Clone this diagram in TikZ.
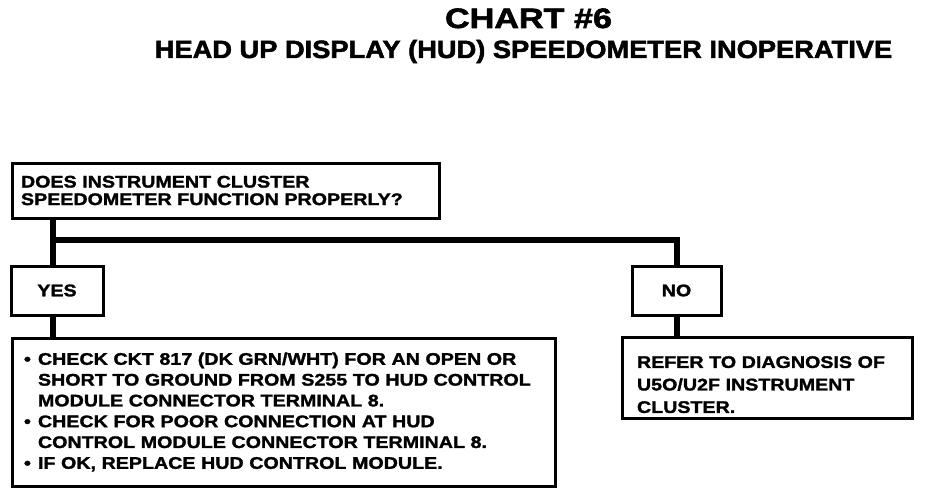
\documentclass[tikz,border=0pt]{standalone}
\usepackage{fontspec}
\newfontfamily\boxfont[FakeStretch=1.17,FakeBold=1.6]{Liberation Sans}
\newfontfamily\titlefont[FakeStretch=1.22,FakeBold=2]{Liberation Sans}
\newfontfamily\subfont[FakeStretch=1.09,FakeBold=2]{Liberation Sans}
\newcommand{\bul}{\makebox[14pt][l]{•}}
\newcommand{\ind}{\hspace*{14pt}}
\begin{document}
\begin{tikzpicture}[x=1pt,y=-1pt,
  box/.style={draw, line width=3pt, rectangle, inner ysep=0pt, align=left,
    font=\boxfont\bfseries\fontsize{16.8}{21}\selectfont},
  conn/.style={line width=6pt}]
\useasboundingbox (0,0) rectangle (928,492);
\fill[white] (0,0) rectangle (928,492);
% titles
\node[anchor=base, inner sep=0pt, font=\titlefont\bfseries\fontsize{28}{28}\selectfont] (title) at (528.5,28) {CHART \#6};
\node[anchor=base, inner sep=0pt, font=\subfont\bfseries\fontsize{25}{25}\selectfont] (subtitle) at (523.5,58) {HEAD UP DISPLAY (HUD) SPEEDOMETER INOPERATIVE};
% boxes
\node[box, minimum width=427pt, minimum height=55pt, text width=409pt, inner xsep=9pt,
  font=\boxfont\bfseries\fontsize{16.8}{17.5}\selectfont] (q) at (225.5,190.5)
  {DOES INSTRUMENT CLUSTER\\SPEEDOMETER FUNCTION PROPERLY?};
\node[box, minimum width=92pt, minimum height=49pt, align=center] (yes) at (57,290.5) {YES};
\node[box, minimum width=89pt, minimum height=49pt, align=center] (no) at (676.5,290.5) {NO};
\node[box, minimum width=543pt, minimum height=148pt, text width=519pt, inner xsep=12pt,
  font=\boxfont\bfseries\fontsize{16.8}{20.8}\selectfont] (act) at (283.5,412)
  {\bul CHECK CKT 817 (DK GRN/WHT) FOR AN OPEN OR\\
   \ind SHORT TO GROUND FROM S255 TO HUD CONTROL\\
   \ind MODULE CONNECTOR TERMINAL 8.\\
   \bul CHECK FOR POOR CONNECTION AT HUD\\
   \ind CONTROL MODULE CONNECTOR TERMINAL 8.\\
   \bul IF OK, REPLACE HUD CONTROL MODULE.};
\node[box, minimum width=290pt, minimum height=81pt, text width=260pt, inner xsep=15pt,
  font=\boxfont\bfseries\fontsize{16.8}{22.5}\selectfont] (ref) at (767,377.5)
  {\rule{0pt}{26pt}REFER TO DIAGNOSIS OF\\U5O/U2F INSTRUMENT\\CLUSTER.};
% connectors
\coordinate (tr) at (53,240);
\draw[conn] (tr |- q.south) -- (tr |- yes.north);
\draw[conn] (tr) -| (no.north);
\draw[conn] (tr |- yes.south) -- (tr |- act.north);
\draw[conn] (no.south) -- (no.south |- ref.north);
\end{tikzpicture}
\end{document}
